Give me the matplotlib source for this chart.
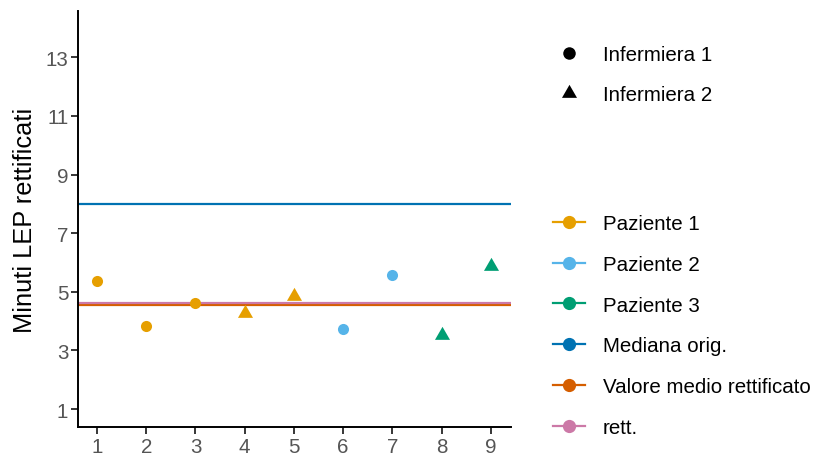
import numpy as np
import matplotlib.pyplot as plt
from matplotlib.lines import Line2D

plt.rcParams['font.family'] = ['Liberation Sans', 'DejaVu Sans']

# --- data ---
obs = [1, 2, 3, 4, 5, 6, 7, 8, 9]
minutes = [5.38, 3.84, 4.61, 4.29, 4.85, 3.73, 5.59, 3.54, 5.89]
patient = [1, 1, 1, 1, 1, 2, 2, 3, 3]
nurse = [1, 1, 1, 2, 2, 1, 1, 2, 2]

median_orig = 8.0
mean_rett = 4.56
rett = 4.625

patient_labels = ["Paziente 1", "Paziente 2", "Paziente 3"]
patient_colors = ["#E69F00", "#56B4E9", "#009E73"]
nurse_labels = ["Infermiera 1", "Infermiera 2"]
line_labels = ["Mediana orig.", "Valore medio rettificato", "rett."]
line_colors = ["#0072B2", "#D55E00", "#CC79A7"]

# equilateral triangle centred on its centroid (like R pch 17)
tri = [(0, 0.577), (-0.5, -0.289), (0.5, -0.289), (0, 0.577)]
markers = {1: ("o", 8), 2: (tri, 12.5)}

fig = plt.figure(figsize=(8.18, 4.56), dpi=100)
ax = fig.add_axes([78 / 818, 28 / 456, 433 / 818, 416 / 456])

x = np.array(obs)
y = np.array(minutes)
p = np.array(patient)
n = np.array(nurse)

for val, lc in zip([median_orig, mean_rett, rett], line_colors):
    ax.axhline(val, color=lc, lw=1.6, zorder=2)

for i, pc in enumerate(patient_colors):
    for k, (m, ms) in markers.items():
        sel = (p == i + 1) & (n == k)
        if sel.any():
            ax.plot(x[sel], y[sel], ls="none", marker=m, ms=ms, color=pc,
                    mec="none", zorder=3)

ax.set_xlim(0.614, 9.41)
ax.set_ylim(0.39, 14.58)
ax.set_xticks(obs)
ax.set_yticks([1, 3, 5, 7, 9, 11, 13])
ax.set_ylabel("Minuti LEP rettificati", fontsize=18.3, labelpad=6)

for s in ["top", "right"]:
    ax.spines[s].set_visible(False)
for s in ["left", "bottom"]:
    ax.spines[s].set_linewidth(1.4)
ax.tick_params(labelsize=14.8, labelcolor="#555555", length=5, width=1.1,
               pad=2)

# shape legend
h1 = [Line2D([], [], ls="none", marker=markers[k][0],
             ms=markers[k][1] if k == 2 else 9, color="black", mec="none")
      for k in (1, 2)]
leg1 = fig.legend(h1, nurse_labels, loc="upper left",
                  bbox_to_anchor=(553 / 818, 1 - 46 / 456), frameon=False,
                  fontsize=14.8, handlelength=1.55, handletextpad=0.87,
                  labelspacing=1.03, borderpad=0, borderaxespad=0)

# colour legend
h2 = [Line2D([], [], color=c, lw=1.6, marker="o", ms=9.5, mec="none")
      for c in patient_colors + line_colors]
leg2 = fig.legend(h2, patient_labels + line_labels, loc="upper left",
                  bbox_to_anchor=(553 / 818, 1 - 215 / 456), frameon=False,
                  fontsize=14.8, handlelength=1.55, handletextpad=0.87,
                  labelspacing=1.06, borderpad=0, borderaxespad=0)

fig.savefig("out.png", dpi=100)
